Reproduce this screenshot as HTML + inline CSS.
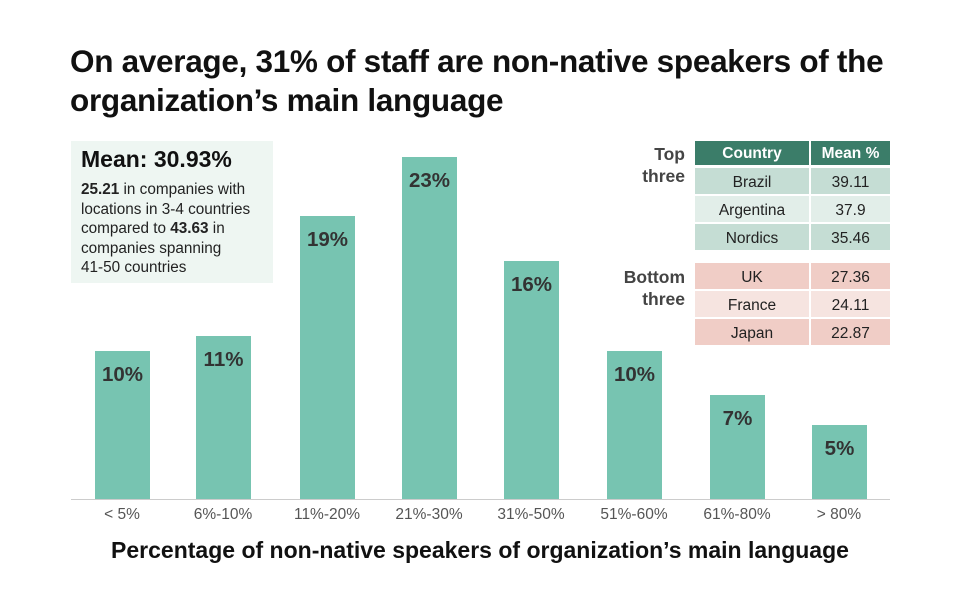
<!DOCTYPE html>
<html><head><style>
body{margin:0;width:960px;height:616px;background:#fff;font-family:"Liberation Sans",sans-serif;position:relative;overflow:hidden}
.a{position:absolute}
.t{left:70px;top:42px;font-size:31.5px;font-weight:bold;color:#111;line-height:39px;letter-spacing:-0.3px}
.bar{position:absolute;background:#77c4b1;width:55px;bottom:117px}
.bar span{position:absolute;top:12px;left:-10px;right:-10px;text-align:center;font-weight:bold;font-size:20.5px;color:#333}
.tk{position:absolute;top:506px;width:100px;text-align:center;font-size:15.5px;color:#555}
.c{position:absolute;text-align:center;font-size:15.5px;color:#222;line-height:30px}
</style></head><body>
<div class="a t">On average, 31% of staff are non-native speakers of the<br>organization’s main language</div>
<div class="a" style="left:71px;top:141px;width:202px;height:142px;background:#eef6f2"></div>
<div class="a" style="left:81px;top:146px;font-size:23px;font-weight:bold;color:#111">Mean: 30.93%</div>
<div class="a" style="left:81px;top:180px;font-size:15.3px;line-height:19.5px;color:#222;white-space:nowrap"><b>25.21</b> in companies with<br>locations in 3-4 countries<br>compared to <b>43.63</b> in<br>companies spanning<br>41-50 countries</div>
<div class="a" style="left:71px;top:499px;width:819px;height:1px;background:#ccc"></div>
<div class="bar" style="left:95px;height:148px"><span>10%</span></div>
<div class="bar" style="left:196px;height:163px"><span>11%</span></div>
<div class="bar" style="left:300px;height:283px"><span>19%</span></div>
<div class="bar" style="left:402px;height:342px"><span>23%</span></div>
<div class="bar" style="left:504px;height:238px"><span>16%</span></div>
<div class="bar" style="left:607px;height:148px"><span>10%</span></div>
<div class="bar" style="left:710px;height:104px"><span>7%</span></div>
<div class="bar" style="left:812px;height:74px"><span>5%</span></div>
<div class="tk" style="left:72px">&lt; 5%</div>
<div class="tk" style="left:173px">6%-10%</div>
<div class="tk" style="left:277px">11%-20%</div>
<div class="tk" style="left:379px">21%-30%</div>
<div class="tk" style="left:481px">31%-50%</div>
<div class="tk" style="left:584px">51%-60%</div>
<div class="tk" style="left:687px">61%-80%</div>
<div class="tk" style="left:789px">&gt; 80%</div>
<div class="a" style="left:0;width:960px;top:537px;text-align:center;font-size:23px;font-weight:bold;color:#111">Percentage of non-native speakers of organization’s main language</div>
<div class="a" style="left:590px;width:95px;top:143px;text-align:right;font-size:17.5px;font-weight:bold;color:#444;line-height:22px">Top<br>three</div>
<div class="a" style="left:590px;width:95px;top:266px;text-align:right;font-size:17.5px;font-weight:bold;color:#444;line-height:22px">Bottom<br>three</div>
<div class="c" style="left:695px;top:141px;width:114px;height:24px;line-height:25px;background:#3b7d69;color:#fff;font-weight:bold">Country</div>
<div class="c" style="left:811px;top:141px;width:79px;height:24px;line-height:25px;background:#3b7d69;color:#fff;font-weight:bold">Mean %</div>
<div class="c" style="left:695px;top:168px;width:114px;height:26px;background:#c5ddd4">Brazil</div>
<div class="c" style="left:811px;top:168px;width:79px;height:26px;background:#c5ddd4">39.11</div>
<div class="c" style="left:695px;top:196px;width:114px;height:26px;background:#e2eee9">Argentina</div>
<div class="c" style="left:811px;top:196px;width:79px;height:26px;background:#e2eee9">37.9</div>
<div class="c" style="left:695px;top:224px;width:114px;height:26px;background:#c5ddd4">Nordics</div>
<div class="c" style="left:811px;top:224px;width:79px;height:26px;background:#c5ddd4">35.46</div>
<div class="c" style="left:695px;top:263px;width:114px;height:26px;background:#f0cdc6">UK</div>
<div class="c" style="left:811px;top:263px;width:79px;height:26px;background:#f0cdc6">27.36</div>
<div class="c" style="left:695px;top:291px;width:114px;height:26px;background:#f6e4e0">France</div>
<div class="c" style="left:811px;top:291px;width:79px;height:26px;background:#f6e4e0">24.11</div>
<div class="c" style="left:695px;top:319px;width:114px;height:26px;background:#f0cdc6">Japan</div>
<div class="c" style="left:811px;top:319px;width:79px;height:26px;background:#f0cdc6">22.87</div>
</body></html>
